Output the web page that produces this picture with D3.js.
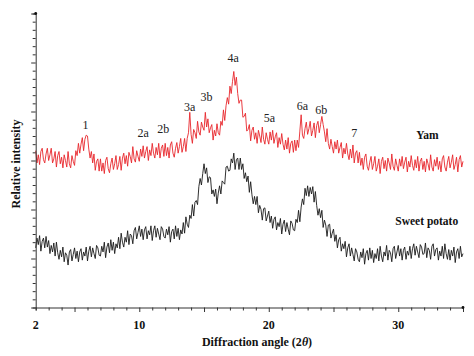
<!DOCTYPE html>
<html>
<head>
<meta charset="utf-8">
<script src="https://cdn.jsdelivr.net/npm/d3@7"></script>
<style>
  html, body { margin: 0; padding: 0; background: #fff; }
  svg { display: block; }
  svg text { font-family: "Liberation Serif", "Times New Roman", serif !important; }
</style>
</head>
<body>
<svg id="chart" width="474" height="356" font-family="Liberation Serif, serif"></svg>
<script>
// ---- data ----
const angleStart = 2.0;   // degrees 2θ, first sample
const angleStep = 0.1;    // degrees between samples

const yam = [
  19.2, 17.7, 18.7, 17.5, 19.1, 19.5, 18.1, 17.7, 18.8, 19.5,
  18.0, 18.7, 19.5, 17.7, 18.2, 19.1, 17.2, 18.6, 19.1, 17.6,
  18.4, 17.1, 18.7, 18.0, 17.2, 19.1, 17.6, 17.1, 18.6, 17.9,
  17.4, 19.2, 18.6, 20.1, 18.9, 20.0, 20.8, 19.2, 20.6, 21.1,
  21.0, 19.4, 18.3, 19.1, 17.7, 18.8, 16.8, 17.9, 18.2, 16.7,
  18.2, 16.7, 17.7, 16.4, 18.0, 18.4, 17.0, 16.5, 17.6, 18.3,
  16.9, 17.6, 18.6, 16.9, 17.5, 18.5, 16.8, 18.3, 18.9, 17.6,
  18.6, 17.3, 19.0, 18.5, 17.7, 19.7, 18.2, 17.8, 19.2, 18.5,
  17.9, 19.4, 18.5, 19.8, 18.3, 19.1, 19.7, 18.0, 19.3, 18.6,
  20.1, 18.9, 18.3, 19.6, 18.7, 20.1, 18.3, 19.5, 19.9, 18.5,
  20.1, 18.6, 19.6, 18.3, 19.9, 20.3, 18.9, 18.4, 19.5, 20.2,
  18.9, 19.7, 20.7, 19.0, 19.7, 20.7, 19.1, 20.7, 21.4, 23.9,
  21.2, 20.1, 21.8, 21.4, 20.7, 22.8, 21.5, 21.1, 22.7, 22.1,
  21.7, 23.9, 22.1, 23.1, 21.4, 22.0, 22.4, 20.5, 21.7, 21.0,
  22.5, 21.4, 21.1, 22.8, 22.3, 24.2, 22.9, 24.7, 25.7, 24.9,
  27.1, 26.2, 27.7, 28.9, 27.2, 28.2, 26.2, 25.0, 25.4, 25.4,
  23.3, 23.4, 23.8, 21.6, 21.8, 22.4, 20.4, 21.7, 22.1, 20.6,
  21.4, 20.1, 21.7, 21.0, 20.2, 22.1, 20.6, 20.0, 21.4, 20.6,
  20.0, 21.5, 20.5, 21.7, 20.1, 20.9, 21.4, 19.6, 20.8, 20.0,
  21.3, 20.0, 19.3, 20.5, 19.4, 20.8, 18.9, 20.1, 20.4, 19.0,
  20.5, 19.2, 20.5, 19.6, 21.6, 23.6, 21.1, 20.7, 21.9, 22.7,
  21.2, 21.9, 22.8, 21.0, 21.7, 22.6, 20.8, 22.3, 22.8, 21.4,
  22.4, 23.4, 22.4, 21.5, 20.3, 21.9, 20.1, 19.4, 20.6, 19.7,
  18.9, 20.3, 19.4, 20.5, 18.9, 19.6, 20.2, 18.3, 19.5, 18.8,
  20.1, 18.8, 18.1, 19.4, 18.3, 19.9, 17.7, 18.9, 19.2, 17.7,
  19.0, 17.4, 18.3, 16.9, 18.4, 18.8, 17.3, 16.8, 17.8, 18.5,
  16.9, 17.6, 18.5, 16.7, 17.3, 18.2, 16.4, 17.9, 18.4, 17.0,
  18.0, 16.7, 18.3, 17.7, 16.9, 18.8, 17.3, 16.8, 18.2, 17.4,
  16.7, 18.2, 17.3, 18.5, 17.0, 17.8, 18.4, 16.6, 17.9, 17.2,
  18.6, 17.4, 16.8, 18.1, 17.1, 18.5, 16.7, 17.9, 18.3, 16.9,
  17.9, 16.6, 18.2, 17.6, 16.8, 18.7, 17.2, 16.7, 18.1, 17.3,
  18.4, 16.9, 17.9, 16.6, 18.2, 18.6, 17.2, 16.7, 17.8, 18.5,
  17.1, 17.8, 18.7, 16.9, 17.5, 18.4, 16.6, 18.1, 18.6, 17.2,
  17.9
];

const sweetPotato = [
  7.3, 8.5, 7.7, 8.8, 6.9, 8.1, 8.5, 7.3, 8.7, 7.4,
  8.2, 6.6, 7.6, 6.8, 7.9, 6.3, 8.0, 6.7, 5.9, 7.0,
  6.2, 7.4, 5.6, 6.7, 6.4, 5.2, 6.8, 7.1, 5.7, 6.5,
  7.3, 6.0, 6.9, 5.6, 6.8, 7.2, 5.8, 6.8, 6.3, 7.4,
  5.7, 6.9, 7.5, 6.2, 7.3, 6.6, 6.0, 7.6, 7.3, 6.4,
  6.3, 7.5, 6.8, 8.0, 6.1, 7.4, 7.9, 6.7, 8.3, 7.0,
  8.0, 6.6, 7.8, 7.3, 8.6, 7.2, 9.1, 8.0, 7.4, 8.6,
  8.0, 9.4, 7.7, 9.0, 8.8, 7.8, 9.4, 9.8, 8.4, 9.2,
  10.0, 8.7, 9.6, 8.3, 9.5, 9.9, 8.4, 9.4, 8.9, 10.0,
  8.2, 9.4, 10.0, 8.6, 9.7, 9.0, 8.3, 9.9, 9.6, 8.7,
  8.5, 9.6, 8.9, 9.9, 8.0, 9.3, 9.6, 8.4, 10.0, 8.7,
  9.7, 8.3, 9.5, 9.0, 10.4, 9.1, 11.1, 10.2, 9.8, 11.3,
  10.9, 12.6, 11.2, 12.9, 13.1, 12.6, 14.8, 15.8, 15.0, 16.4,
  17.6, 16.4, 17.1, 15.3, 16.0, 15.9, 13.9, 14.4, 13.6, 14.5,
  12.7, 14.0, 14.9, 13.9, 15.5, 15.3, 15.1, 17.2, 17.3, 16.7,
  16.8, 18.2, 17.7, 18.9, 16.9, 18.1, 18.3, 16.9, 18.3, 16.9,
  17.6, 15.8, 16.5, 15.4, 16.1, 14.1, 15.4, 13.8, 12.7, 13.6,
  12.6, 13.6, 11.6, 12.5, 12.0, 10.7, 12.1, 12.2, 10.6, 11.2,
  11.8, 10.4, 11.2, 9.7, 10.8, 11.1, 9.5, 10.4, 9.9, 10.9,
  9.0, 10.2, 10.7, 9.3, 10.4, 9.6, 8.9, 10.6, 10.3, 9.5,
  9.4, 10.8, 10.4, 11.9, 10.5, 12.3, 13.3, 12.6, 14.6, 13.7,
  14.9, 13.6, 14.7, 13.9, 14.8, 12.9, 14.2, 12.5, 11.3, 12.1,
  11.0, 11.9, 9.8, 10.7, 10.1, 8.7, 10.1, 10.2, 8.5, 9.1,
  9.6, 8.1, 8.9, 7.3, 8.3, 8.6, 6.9, 7.8, 7.2, 8.1,
  6.2, 7.3, 7.8, 6.3, 7.3, 6.5, 5.7, 7.2, 6.8, 5.9,
  5.6, 6.8, 6.1, 7.2, 5.3, 6.6, 7.0, 5.8, 7.3, 6.0,
  7.0, 5.5, 6.6, 6.0, 7.2, 5.7, 7.5, 6.3, 5.6, 6.8,
  6.3, 7.6, 5.8, 7.0, 6.7, 5.6, 7.2, 7.5, 6.0, 6.8,
  7.6, 6.3, 7.2, 5.8, 7.0, 7.4, 5.9, 6.9, 6.4, 7.5,
  6.0, 7.2, 7.8, 6.4, 7.5, 6.8, 6.1, 7.7, 7.4, 6.5,
  6.6, 7.9, 6.1, 7.3, 7.0, 5.9, 7.5, 7.8, 6.3, 7.1,
  7.3, 5.8, 6.9, 6.3, 7.5, 6.0, 7.8, 6.6, 5.9, 7.1,
  5.8, 7.0, 6.3, 7.4, 5.5, 6.8, 7.2, 6.0, 7.5, 6.2,
  6.6
];

// peak labels, their angle 2θ and the intensity level of the label baseline
const peakLabels = ["1", "2a", "2b", "3a", "3b", "4a", "5a", "6a", "6b", "7"];
const peakAngles = [5.85, 10.3, 11.85, 13.9, 15.2, 17.25, 20.05, 22.6, 24.05, 26.6];
const peakLevels = [21.9, 20.9, 21.4, 24.1, 25.3, 30.1, 22.7, 24.2, 23.7, 20.9];

const seriesNames = ["Yam", "Sweet potato"];
const seriesColors = ["#e8262b", "#1a1a1a"];
const seriesLabelAngle = [32.25, 32.2];
const seriesLabelLevel = [20.6, 10.1];

const xTickLabels = [2, 10, 20, 30];
const xDomain = [2, 35];
const yDomain = [0, 36];

// ---- drawing ----
const FONT = "Liberation Serif, Times New Roman, serif";
const svg = d3.select("#chart");
const x = d3.scaleLinear().domain(xDomain).range([35.7, 463]);
const y = d3.scaleLinear().domain(yDomain).range([307.5, 13.5]);

const toPoints = arr => arr.map((v, i) => [angleStart + i * angleStep, v]);
const line = d3.line().x(d => x(d[0])).y(d => y(d[1]));

// curves
[yam, sweetPotato].forEach((arr, k) => {
  svg.append("path")
    .datum(toPoints(arr))
    .attr("fill", "none")
    .attr("stroke", seriesColors[k])
    .attr("stroke-width", 0.9)
    .attr("d", line);
});

// x axis
const xMinor = d3.range(2, 35.01, 1);
const gx = svg.append("g").attr("transform", `translate(0,${y(0)})`);
gx.call(d3.axisBottom(x).tickValues(xMinor).tickSize(3).tickFormat(""));
gx.attr("font-family", FONT);
gx.selectAll(".tick line").attr("y2", d => (d % 5 === 0 ? 4.5 : 3)).attr("stroke", "#333");
gx.select(".domain").attr("stroke", "#333").attr("stroke-width", 1);
gx.selectAll(".label")
  .data(xTickLabels)
  .enter().append("text")
  .attr("x", d => x(d))
  .attr("y", 21)
  .attr("text-anchor", "middle")
  .attr("font-family", FONT)
  .attr("font-weight", "bold")
  .attr("font-size", 12)
  .attr("fill", "#111")
  .text(d => d);

// y axis
const gy = svg.append("g").attr("transform", `translate(${x(2)},0)`);
gy.call(d3.axisLeft(y).tickValues(d3.range(0, 36.01, 1)).tickSize(3).tickFormat(""));
gy.selectAll(".tick line").attr("x2", d => (d % 6 === 0 ? -4.5 : -3)).attr("stroke", "#333");
gy.select(".domain").attr("stroke", "#333").attr("stroke-width", 1);

// axis end dots
svg.append("circle").attr("cx", x(2)).attr("cy", y(36)).attr("r", 1.4).attr("fill", "#111");
svg.append("circle").attr("cx", x(35)).attr("cy", y(0)).attr("r", 1.4).attr("fill", "#111");

// axis titles
const xt = svg.append("text")
  .attr("x", 257).attr("y", 346)
  .attr("text-anchor", "middle")
  .attr("font-family", FONT)
  .attr("font-weight", "bold")
  .attr("font-size", 12)
  .attr("fill", "#111");
xt.append("tspan").text("Diffraction angle (2");
xt.append("tspan").attr("font-style", "italic").text("θ");
xt.append("tspan").text(")");

svg.append("text")
  .attr("transform", "translate(20,164) rotate(-90)")
  .attr("text-anchor", "middle")
  .attr("font-family", FONT)
  .attr("font-weight", "bold")
  .attr("font-size", 12)
  .attr("fill", "#111")
  .text("Relative intensity");

// peak labels
svg.selectAll(".peak")
  .data(peakLabels)
  .enter().append("text")
  .attr("class", "peak")
  .attr("x", (d, i) => x(peakAngles[i]))
  .attr("y", (d, i) => y(peakLevels[i]))
  .attr("text-anchor", "middle")
  .attr("font-family", FONT)
  .attr("font-size", 12)
  .attr("fill", "#222")
  .text(d => d);

// series labels
svg.selectAll(".sname")
  .data(seriesNames)
  .enter().append("text")
  .attr("class", "sname")
  .attr("x", (d, i) => x(seriesLabelAngle[i]))
  .attr("y", (d, i) => y(seriesLabelLevel[i]))
  .attr("text-anchor", "middle")
  .attr("font-family", FONT)
  .attr("font-weight", "bold")
  .attr("font-size", 11.5)
  .attr("fill", "#111")
  .text(d => d);
</script>
</body>
</html>
